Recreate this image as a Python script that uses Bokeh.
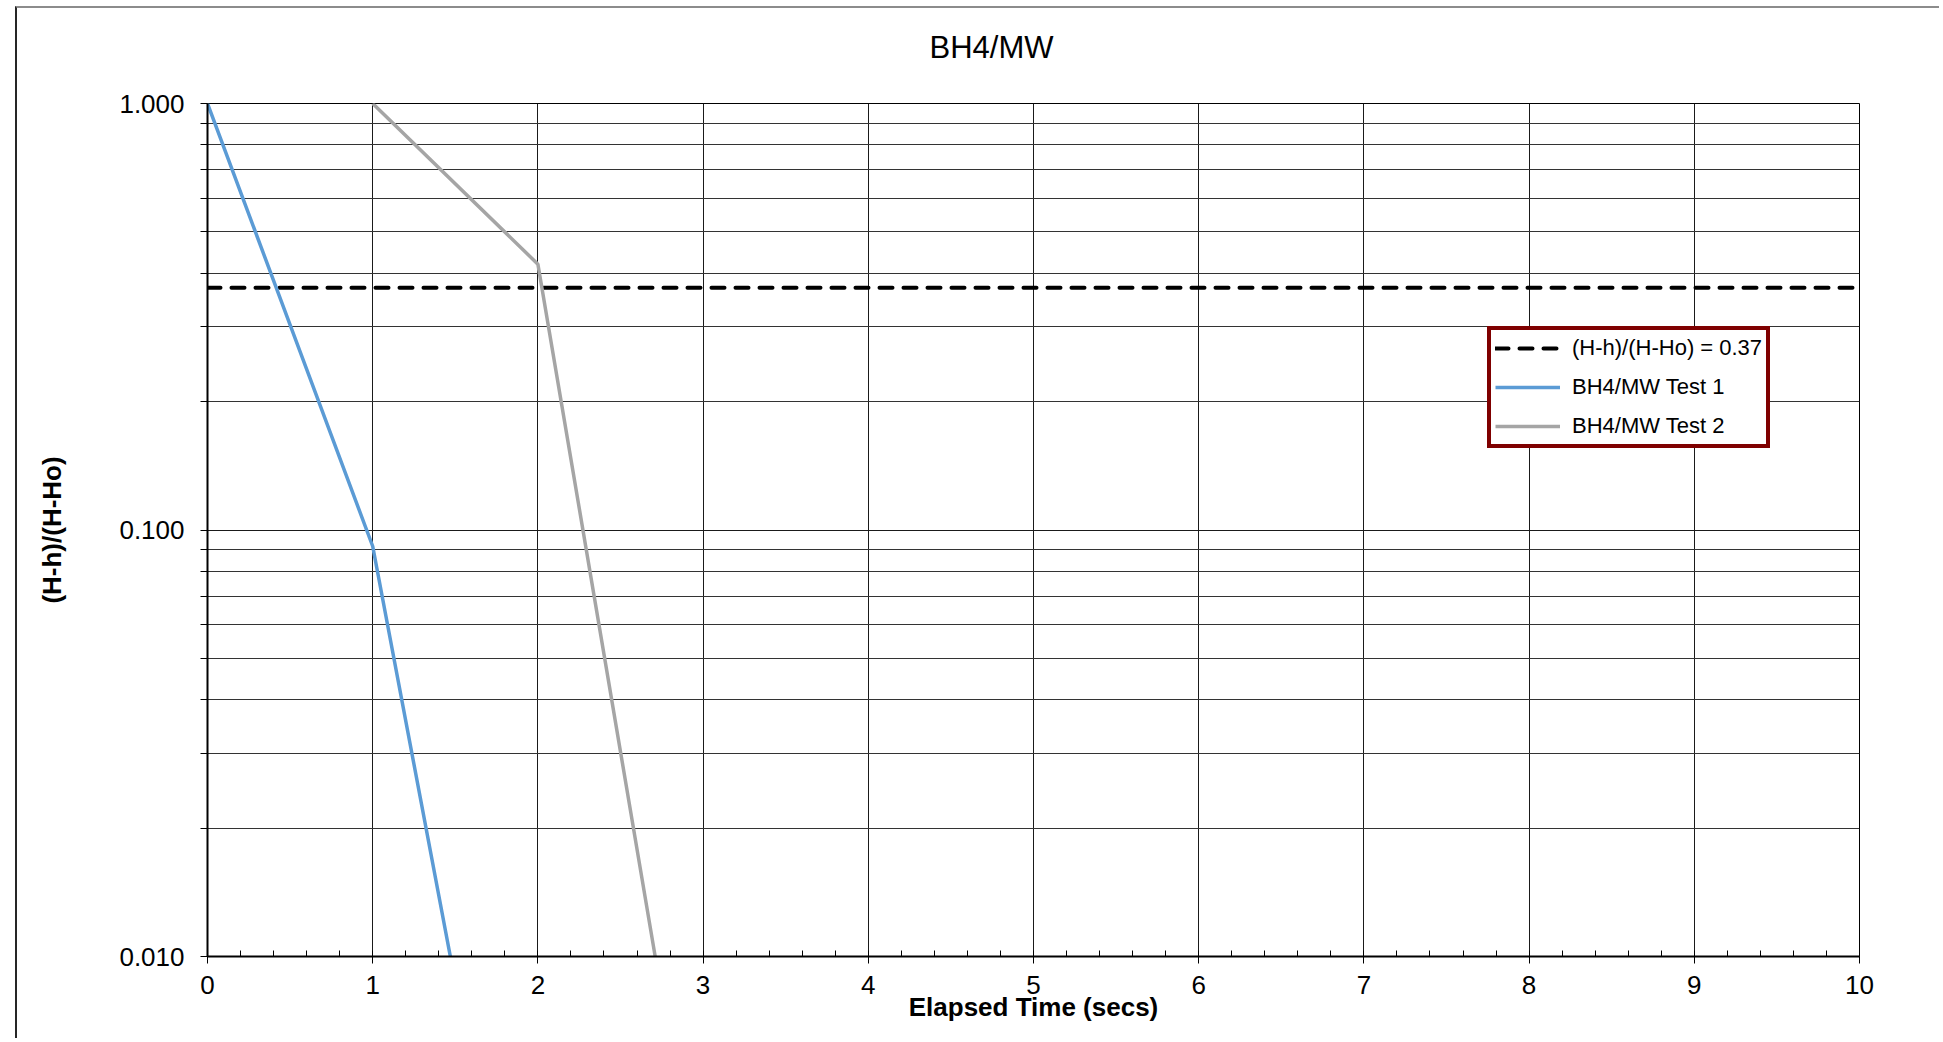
from bokeh.plotting import figure
from bokeh.models import (FixedTicker, SingleIntervalTicker, PrintfTickFormatter,
                          Legend, LegendItem, Range1d, Title)
from bokeh.embed import file_html
from bokeh.resources import INLINE

# ---- data ----
title_text = "BH4/MW"
x_label = "Elapsed Time (secs)"
y_label = "(H-h)/(H-Ho)"

test1_time = [0.0, 1.0, 1.47]
test1_ratio = [1.0, 0.0916, 0.010]

test2_time = [1.0, 2.0, 2.71]
test2_ratio = [1.0, 0.42, 0.010]

threshold_time = [0.0, 10.0]
threshold_ratio = [0.37, 0.37]

y_major_ticks = [0.01, 0.1, 1.0]
y_minor_ticks = [0.02, 0.03, 0.04, 0.05, 0.06, 0.07, 0.08, 0.09,
                 0.2, 0.3, 0.4, 0.5, 0.6, 0.7, 0.8, 0.9]

legend_labels = ["(H-h)/(H-Ho) = 0.37", "BH4/MW Test 1", "BH4/MW Test 2"]

FONT = "Liberation Sans"

p = figure(width=1924, height=1032, title=None,
           x_range=Range1d(0, 10), y_range=Range1d(0.01, 1.0),
           y_axis_type="log", output_backend="svg", toolbar_location=None,
           min_border_left=190, min_border_right=82,
           min_border_top=95, min_border_bottom=84,
           background_fill_color="white", border_fill_color="white")
p.margin = (6, 0, 0, 15)
p.styles = {"border-top": "2px solid #8c8c8c", "border-left": "2px solid #262626"}
p.outline_line_color = "black"
p.outline_line_width = 1

# title (bottom padding lifts it away from the frame)
title = Title(text=title_text, align="left", offset=722, vertical_align="bottom",
              standoff=10, text_font=FONT, text_font_size="31px",
              text_font_style="normal", text_color="black",
              padding=dict(left=0, right=0, top=0, bottom=34))
p.add_layout(title, "above")

# grids
p.xgrid.ticker = SingleIntervalTicker(interval=1, num_minor_ticks=5)
p.xgrid.grid_line_color = "#1a1a1a"
p.xgrid.grid_line_width = 1
yt = FixedTicker(ticks=y_major_ticks, minor_ticks=y_minor_ticks)
p.ygrid.ticker = yt
p.ygrid.grid_line_color = "#1a1a1a"
p.ygrid.grid_line_width = 1
p.ygrid.minor_grid_line_color = "#333333"
p.ygrid.minor_grid_line_width = 1

# x axis
xa = p.below[0]
xa.ticker = SingleIntervalTicker(interval=1, num_minor_ticks=5)
xa.axis_line_color = "black"
xa.axis_line_width = 2
xa.major_tick_in = 0
xa.major_tick_out = 7
xa.minor_tick_in = 6
xa.minor_tick_out = 0
xa.major_tick_line_color = "black"
xa.minor_tick_line_color = "black"
xa.major_label_text_font = FONT
xa.major_label_text_font_size = "26px"
xa.major_label_text_color = "black"
xa.major_label_standoff = 12
xa.axis_label = x_label
xa.axis_label_text_font = FONT
xa.axis_label_text_font_size = "26px"
xa.axis_label_text_font_style = "bold"
xa.axis_label_text_color = "black"
xa.axis_label_standoff = -5

# y axis
ya = p.left[0]
ya.ticker = yt
ya.formatter = PrintfTickFormatter(format="%.3f")
ya.axis_line_color = "black"
ya.axis_line_width = 2
ya.major_tick_in = 0
ya.major_tick_out = 7
ya.minor_tick_in = 0
ya.minor_tick_out = 7
ya.major_tick_line_color = "black"
ya.minor_tick_line_color = "black"
ya.major_label_text_font = FONT
ya.major_label_text_font_size = "26px"
ya.major_label_text_color = "black"
ya.major_label_standoff = 16
ya.axis_label = y_label
ya.axis_label_text_font = FONT
ya.axis_label_text_font_size = "26px"
ya.axis_label_text_font_style = "bold"
ya.axis_label_text_color = "black"
ya.axis_label_standoff = 49

# series
r_thr = p.line(threshold_time, threshold_ratio, line_color="black", line_width=4,
               line_dash="13 11", line_cap="round")
r1 = p.line(test1_time, test1_ratio, line_color="#5B9BD5", line_width=3.5)
r2 = p.line(test2_time, test2_ratio, line_color="#A5A5A5", line_width=3.5)

legend = Legend(items=[LegendItem(label=legend_labels[0], renderers=[r_thr]),
                       LegendItem(label=legend_labels[1], renderers=[r1]),
                       LegendItem(label=legend_labels[2], renderers=[r2])],
                location=(1280, 508))
legend.border_line_color = "#7F0000"
legend.border_line_width = 4
legend.border_line_alpha = 1
legend.background_fill_color = "white"
legend.background_fill_alpha = 1
legend.label_text_font = FONT
legend.label_text_font_size = "22px"
legend.label_text_color = "black"
legend.glyph_width = 65
legend.glyph_height = 28
legend.label_height = 28
legend.spacing = 11
legend.padding = 4
legend.margin = 0
legend.label_standoff = 12
p.add_layout(legend)

open("out.html", "w").write(file_html(p, INLINE))
